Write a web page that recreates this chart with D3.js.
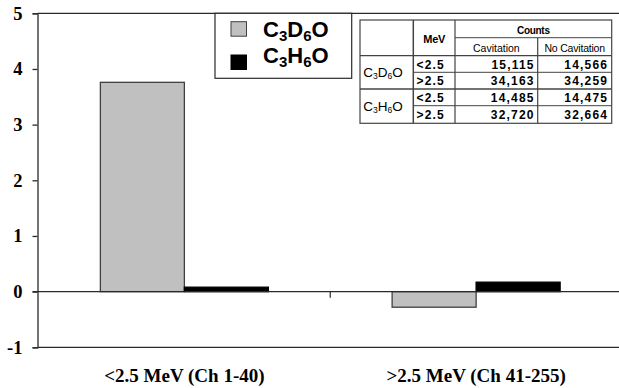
<!DOCTYPE html>
<html>
<head>
<meta charset="utf-8">
<script src="https://cdn.jsdelivr.net/npm/d3@7"></script>
<style>
  html, body { margin: 0; padding: 0; background: #fff; }
  svg { display: block; }
</style>
</head>
<body>
<svg id="chart" width="619" height="388"></svg>
<script>
// Energy windows on the category axis
const categories = ["<2.5 MeV (Ch 1-40)", ">2.5 MeV (Ch 41-255)"];
// Series (molecular formulas; digits are drawn as subscripts)
const series = ["C3D6O", "C3H6O"];
// Bar values per series, one per energy window
const c3d6oValues = [3.76, -0.28];
const c3h6oValues = [0.08, 0.17];
const seriesValues = [c3d6oValues, c3h6oValues];
const seriesColors = ["#c0c0c0", "#000000"];
// Value axis ticks
const yTicks = [-1, 0, 1, 2, 3, 4, 5];

// Count table
const tableCompounds = ["C3D6O", "C3H6O"];
const tableRanges = ["<2.5", ">2.5"];
const cavitationCounts = ["15,115", "34,163", "14,485", "32,720"];
const noCavitationCounts = ["14,566", "34,259", "14,475", "32,664"];

const svg = d3.select("#chart");
const W = 619;

const y = d3.scaleLinear().domain([-1, 5]).range([347.3, 13.3]);
const x0 = d3.scaleBand().domain(categories).range([38.5, 622]).padding(0);
const x1 = d3.scaleBand().domain(series).range([0, x0.bandwidth()])
  .paddingInner(0).paddingOuter(0.7366);

const axisX = 37.5;
const lineColor = "#2a2a2a";

// formula text with subscript digits
function formula(sel, str, bigSize, subSize, subDy) {
  const parts = str.match(/\d+|\D+/g);
  let offset = 0;
  parts.forEach(p => {
    const isSub = /\d/.test(p);
    const target = isSub ? subDy : 0;
    sel.append("tspan")
      .attr("font-size", isSub ? subSize : bigSize)
      .attr("dy", target - offset)
      .text(p);
    offset = target;
  });
}

// Plot frame top and bottom lines
svg.append("line").attr("x1", axisX).attr("x2", W)
  .attr("y1", y(5)).attr("y2", y(5))
  .attr("stroke", lineColor).attr("stroke-width", 1.3);
svg.append("line").attr("x1", axisX).attr("x2", W)
  .attr("y1", y(-1)).attr("y2", y(-1))
  .attr("stroke", lineColor).attr("stroke-width", 1.3);

// Bars
const groups = svg.append("g").selectAll("g")
  .data(categories)
  .join("g")
  .attr("transform", d => `translate(${x0(d)},0)`);

groups.selectAll("rect")
  .data((c, ci) => series.map((s, si) => ({ s, si, v: seriesValues[si][ci] })))
  .join("rect")
  .attr("x", d => x1(d.s))
  .attr("width", x1.bandwidth())
  .attr("y", d => y(Math.max(0, d.v)))
  .attr("height", d => Math.abs(y(d.v) - y(0)))
  .attr("fill", d => seriesColors[d.si])
  .attr("stroke", d => d.si === 0 ? "#404040" : "#000")
  .attr("stroke-width", 1.3);

// Zero baseline
svg.append("line").attr("x1", axisX - 5).attr("x2", W)
  .attr("y1", y(0)).attr("y2", y(0))
  .attr("stroke", lineColor).attr("stroke-width", 1.3);

// Category tick marks at band boundaries
svg.append("g").selectAll("line")
  .data(categories)
  .join("line")
  .attr("x1", d => x0(d) + x0.bandwidth())
  .attr("x2", d => x0(d) + x0.bandwidth())
  .attr("y1", y(0)).attr("y2", y(0) + 6)
  .attr("stroke", lineColor).attr("stroke-width", 1.2);

// Value axis
const yAxis = svg.append("g")
  .attr("transform", `translate(${axisX},0)`)
  .call(d3.axisLeft(y).tickValues(yTicks).tickSize(5).tickPadding(10).tickFormat(d => String(d)));
yAxis.select(".domain").attr("stroke", lineColor).attr("stroke-width", 1.3);
yAxis.selectAll(".tick line").attr("stroke", lineColor).attr("stroke-width", 1.3);
yAxis.selectAll(".tick text")
  .attr("font-family", "'Liberation Serif', 'Times New Roman', serif")
  .attr("font-weight", "bold")
  .attr("font-size", 18.5)
  .attr("fill", "#000");

// Category labels
svg.append("g").selectAll("text")
  .data(categories)
  .join("text")
  .attr("x", d => x0(d) + x0.bandwidth() / 2)
  .attr("y", 382)
  .attr("text-anchor", "middle")
  .attr("font-family", "'Liberation Serif', 'Times New Roman', serif")
  .attr("font-weight", "bold")
  .attr("font-size", 19)
  .text(d => d);

// Legend
const legend = svg.append("g");
legend.append("rect")
  .attr("x", 215).attr("y", 13.3).attr("width", 136.7).attr("height", 65)
  .attr("fill", "#fff").attr("stroke", lineColor).attr("stroke-width", 1.2);
series.forEach((s, i) => {
  const ly = 21.7 + i * 33.3;
  legend.append("rect")
    .attr("x", 231).attr("y", ly).attr("width", 15.5).attr("height", 14.5)
    .attr("fill", seriesColors[i])
    .attr("stroke", i === 0 ? "#404040" : "#000").attr("stroke-width", 1);
  const t = legend.append("text")
    .attr("x", 263).attr("y", 36.7 + i * 26.6)
    .attr("font-family", "'Liberation Sans', Arial, sans-serif")
    .attr("font-weight", "bold")
    .attr("fill", "#000");
  formula(t, s, 22, 15, 4);
});

// Count table
const tbl = svg.append("g").attr("font-family", "'Liberation Sans', Arial, sans-serif");
const colX = [360, 413.3, 455, 537.7, 611.7];
const rowY = [20, 37.7, 55.7, 72.3, 89, 105.7, 123.3];
const tStroke = "#444";
tbl.append("rect")
  .attr("x", colX[0]).attr("y", rowY[0])
  .attr("width", colX[4] - colX[0]).attr("height", rowY[6] - rowY[0])
  .attr("fill", "#fff").attr("stroke", tStroke).attr("stroke-width", 1.2);
const hl = (x1_, x2_, yy, w) => tbl.append("line").attr("x1", x1_).attr("x2", x2_)
  .attr("y1", yy).attr("y2", yy).attr("stroke", tStroke).attr("stroke-width", w || 1);
const vl = (xx, y1_, y2_, w) => tbl.append("line").attr("x1", xx).attr("x2", xx)
  .attr("y1", y1_).attr("y2", y2_).attr("stroke", tStroke).attr("stroke-width", w || 1);
hl(colX[2], colX[4], rowY[1]);
hl(colX[0], colX[4], rowY[2], 1.3);
hl(colX[1], colX[4], rowY[3]);
hl(colX[0], colX[4], rowY[4], 1.3);
hl(colX[1], colX[4], rowY[5]);
vl(colX[1], rowY[0], rowY[6], 1.5);
vl(colX[2], rowY[0], rowY[6], 1.2);
vl(colX[3], rowY[1], rowY[6], 1.2);

tbl.append("text").attr("x", (colX[1] + colX[2]) / 2).attr("y", 43)
  .attr("text-anchor", "middle").attr("font-weight", "bold").attr("font-size", 11)
  .attr("letter-spacing", -0.3).text("MeV");
tbl.append("text").attr("x", (colX[2] + colX[4]) / 2).attr("y", 34.3)
  .attr("text-anchor", "middle").attr("font-weight", "bold").attr("font-size", 10)
  .attr("letter-spacing", -0.3).text("Counts");
tbl.append("text").attr("x", (colX[2] + colX[3]) / 2).attr("y", 51.5)
  .attr("text-anchor", "middle").attr("font-size", 10.5).text("Cavitation");
tbl.append("text").attr("x", (colX[3] + colX[4]) / 2).attr("y", 51.5)
  .attr("text-anchor", "middle").attr("font-size", 10.5).attr("letter-spacing", -0.2).text("No Cavitation");

tableCompounds.forEach((c, gi) => {
  const t = tbl.append("text")
    .attr("x", 363.3)
    .attr("y", (rowY[2 + gi * 2] + rowY[4 + gi * 2]) / 2 + 4.5)
    .attr("fill", "#000");
  formula(t, c, 13.5, 8.5, 2);
});

for (let r = 0; r < 4; r++) {
  const cy = (rowY[2 + r] + rowY[3 + r]) / 2 + 4.6;
  tbl.append("text").attr("x", 416.5).attr("y", cy)
    .attr("font-weight", "bold").attr("font-size", 12).attr("letter-spacing", 1.2)
    .text(tableRanges[r % 2]);
  tbl.append("text").attr("x", colX[3] - 3).attr("y", cy)
    .attr("text-anchor", "end")
    .attr("font-weight", "bold").attr("font-size", 12).attr("letter-spacing", 1.2)
    .text(cavitationCounts[r]);
  tbl.append("text").attr("x", colX[4] - 3.5).attr("y", cy)
    .attr("text-anchor", "end")
    .attr("font-weight", "bold").attr("font-size", 12).attr("letter-spacing", 1.2)
    .text(noCavitationCounts[r]);
}
</script>
</body>
</html>
